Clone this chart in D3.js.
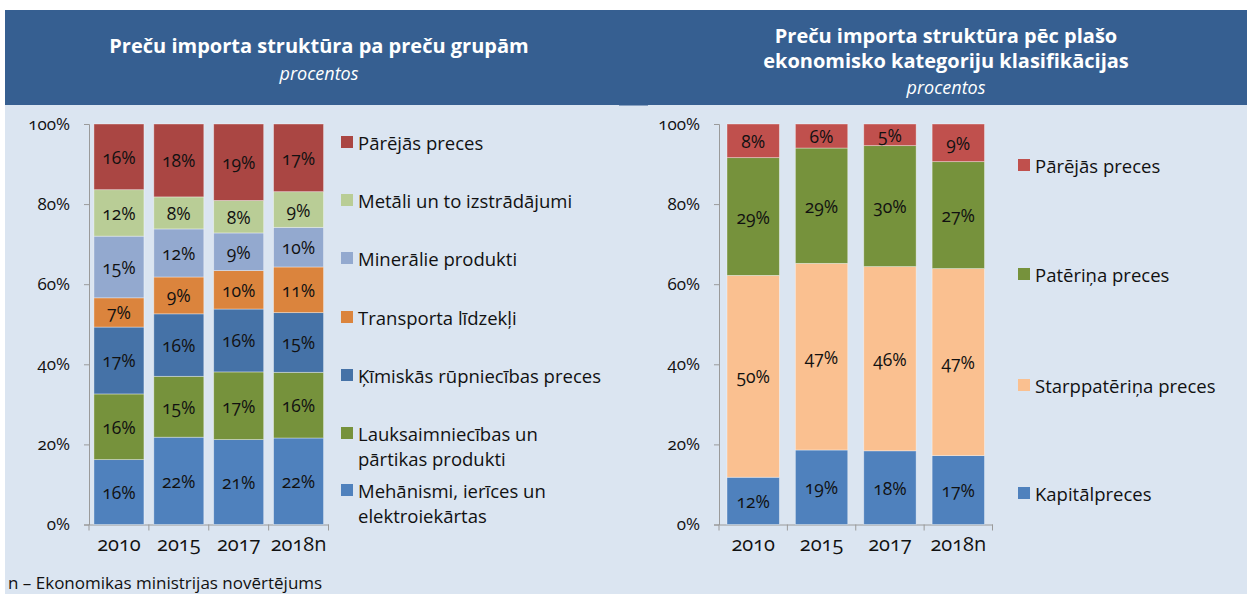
<!DOCTYPE html>
<html>
<head>
<meta charset="utf-8">
<script src="https://cdnjs.cloudflare.com/ajax/libs/d3/7.8.5/d3.min.js"></script>
<style>
  body { margin: 0; background: #fff; }
  svg text { font-family: "Open Sans", "Noto Sans", sans-serif; fill: #111; font-feature-settings: "onum"; }
</style>
</head>
<body>
<div id="chart-area"></div>
<script>
// data
var years = ["2010", "2015", "2017", "2018n"]

// preču grupas (no apakšas uz augšu)
var groupNames = ["Mehānismi, ierīces un elektroiekārtas", "Lauksaimniecības un pārtikas produkti",
  "Ķīmiskās rūpniecības preces", "Transporta līdzekļi", "Minerālie produkti",
  "Metāli un to izstrādājumi", "Pārējās preces"]
var mehanismi = [16.2, 21.8, 21.2, 21.6]
var lauksaimn = [16.4, 15.2, 16.9, 16.4]
var kimiskas = [16.7, 15.6, 15.7, 14.9]
var transports = [7.3, 9.2, 9.6, 11.4]
var minerali = [15.4, 12.0, 9.4, 9.9]
var metali = [11.6, 8.0, 8.1, 8.9]
var parejasGr = [16.4, 18.2, 19.1, 16.9]

// plašās ekonomiskās kategorijas
var catNames = ["Kapitālpreces", "Starppatēriņa preces", "Patēriņa preces", "Pārējās preces"]
var kapital = [11.8, 18.6, 18.4, 17.2]
var starppat = [50.4, 46.6, 46.0, 46.7]
var paterina = [29.4, 28.8, 30.2, 26.7]
var parejasEk = [8.4, 6.0, 5.4, 9.4]

var yTicks = [0, 20, 40, 60, 80, 100]

var groupColors = ["#4F81BD", "#76923C", "#4572A7", "#DB843D", "#93A9CF", "#B9CD96", "#AA4643"]
var catColors = ["#4F81BD", "#FAC090", "#76923C", "#C0504D"]

var W = 1248, H = 594

var svg = d3.select("#chart-area").append("svg")
  .attr("width", W)
  .attr("height", H)

// backgrounds
svg.append("rect").attr("x", 5).attr("y", 104).attr("width", 1242).attr("height", H - 104).attr("fill", "#DBE5F1")
svg.append("rect").attr("x", 5).attr("y", 10).attr("width", 1242).attr("height", 95).attr("fill", "#365F91")
svg.append("rect").attr("x", 619).attr("y", 104).attr("width", 29).attr("height", 1.5).attr("fill", "#365F91")

// headers
function header(lines, cx, ys, subY) {
  lines.forEach(function(l, i) {
    svg.append("text")
      .attr("x", cx).attr("y", ys[i])
      .attr("text-anchor", "middle").attr("dominant-baseline", "central")
      .style("font-size", "20px").style("font-weight", "bold").style("fill", "#fff")
      .text(l)
  })
  svg.append("text")
    .attr("x", cx).attr("y", subY)
    .attr("text-anchor", "middle").attr("dominant-baseline", "central")
    .style("font-size", "18px").style("font-style", "italic").style("fill", "#fff")
    .text("procentos")
}
header(["Preču importa struktūra pa preču grupām"], 319, [45], 73)
header(["Preču importa struktūra pēc plašo", "ekonomisko kategoriju klasifikācijas"], 946, [35, 60], 87)

function drawChart(opts) {
  var x = d3.scaleBand()
    .domain(years)
    .range([opts.x0, opts.x1])
    .paddingInner(opts.pad)
    .paddingOuter(opts.pad / 2)

  var y = d3.scaleLinear()
    .domain([0, 100])
    .range([524.5, 124])

  var table = years.map(function(yr, i) {
    var row = { year: yr }
    opts.keys.forEach(function(k, j) { row[k] = opts.series[j][i] })
    return row
  })
  var stacked = d3.stack().keys(opts.keys)(table)

  var g = svg.append("g")

  // y axis
  var yAxisCall = d3.axisLeft(y)
    .tickValues(yTicks)
    .tickSize(5)
    .tickPadding(14)
    .tickFormat(function(d) { return d + "%" })
  var ya = g.append("g")
    .attr("class", "y axis")
    .attr("transform", "translate(" + opts.x0 + ",0)")
    .call(yAxisCall)
  ya.selectAll("path, line").attr("stroke", "#9A9A9A")
  ya.selectAll("text").style("font-size", "17px").style("fill", "#111")

  // x axis: ticks between categories like Excel
  var xAxisCall = d3.axisBottom(x).tickSize(0).tickPadding(12)
  var xa = g.append("g")
    .attr("class", "x axis")
    .attr("transform", "translate(0," + y(0) + ")")
    .call(xAxisCall)
  xa.select("path").attr("stroke", "#9A9A9A")
  xa.selectAll("text").style("font-size", "20px").style("fill", "#111")
  var step = x.step()
  xa.selectAll("line.sep")
    .data(d3.range(years.length + 1))
    .enter().append("line")
    .attr("class", "sep")
    .attr("x1", function(d) { return opts.x0 + d * step })
    .attr("x2", function(d) { return opts.x0 + d * step })
    .attr("y1", 0).attr("y2", 6)
    .attr("stroke", "#9A9A9A")

  // bars
  var layers = g.selectAll("g.layer")
    .data(stacked)
    .enter().append("g")
    .attr("class", "layer")
    .attr("fill", function(d, i) { return opts.colors[i] })

  layers.selectAll("rect")
    .data(function(d) { return d })
    .enter().append("rect")
    .attr("x", function(d) { return x(d.data.year) })
    .attr("width", x.bandwidth())
    .attr("y", function(d) { return y(d[1]) })
    .attr("height", function(d) { return y(d[0]) - y(d[1]) })
    .attr("stroke", "rgba(255,255,255,0.45)")
    .attr("stroke-width", 0.8)

  layers.selectAll("text")
    .data(function(d) { return d })
    .enter().append("text")
    .attr("x", function(d) { return x(d.data.year) + x.bandwidth() / 2 })
    .attr("y", function(d) { return (y(d[0]) + y(d[1])) / 2 })
    .attr("text-anchor", "middle")
    .attr("dominant-baseline", "central")
    .style("font-size", "17.5px")
    .text(function(d) { return Math.round(d[1] - d[0]) + "%" })

  // legend
  var lg = g.selectAll("g.legend")
    .data(opts.legend)
    .enter().append("g")
    .attr("class", "legend")
    .attr("transform", function(d) { return "translate(" + opts.lx + "," + d.y + ")" })
  lg.append("rect")
    .attr("x", 0).attr("y", -6)
    .attr("width", 12).attr("height", 12)
    .attr("fill", function(d) { return opts.colors[d.i] })
  lg.each(function(d) {
    var t = d3.select(this)
    d.lines.forEach(function(l, k) {
      t.append("text")
        .attr("x", 17).attr("y", k * 25)
        .attr("dominant-baseline", "central")
        .style("font-size", "18.5px")
        .text(l)
    })
  })
}

drawChart({
  x0: 89, x1: 328.5, pad: 0.165,
  keys: groupNames,
  series: [mehanismi, lauksaimn, kimiskas, transports, minerali, metali, parejasGr],
  colors: groupColors,
  lx: 341,
  legend: [
    { i: 6, y: 142, lines: ["Pārējās preces"] },
    { i: 5, y: 200, lines: ["Metāli un to izstrādājumi"] },
    { i: 4, y: 258, lines: ["Minerālie produkti"] },
    { i: 3, y: 317, lines: ["Transporta līdzekļi"] },
    { i: 2, y: 375, lines: ["Ķīmiskās rūpniecības preces"] },
    { i: 1, y: 433, lines: ["Lauksaimniecības un", "pārtikas produkti"] },
    { i: 0, y: 490, lines: ["Mehānismi, ierīces un", "elektroiekārtas"] }
  ]
})

drawChart({
  x0: 719, x1: 992.5, pad: 0.234,
  keys: catNames,
  series: [kapital, starppat, paterina, parejasEk],
  colors: catColors,
  lx: 1018,
  legend: [
    { i: 3, y: 165, lines: ["Pārējās preces"] },
    { i: 2, y: 274, lines: ["Patēriņa preces"] },
    { i: 1, y: 385, lines: ["Starppatēriņa preces"] },
    { i: 0, y: 493, lines: ["Kapitālpreces"] }
  ]
})

// footnote
svg.append("text")
  .attr("x", 8).attr("y", 582)
  .attr("dominant-baseline", "central")
  .style("font-size", "17px")
  .text("n – Ekonomikas ministrijas novērtējums")
</script>
</body>
</html>
